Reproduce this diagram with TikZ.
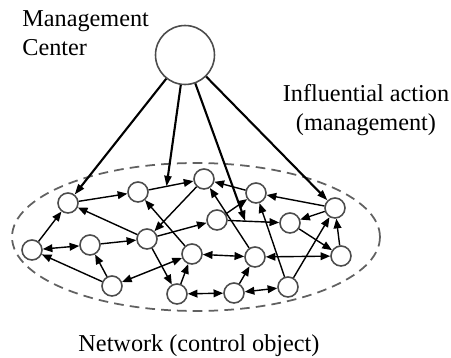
\documentclass[tikz,border=0pt]{standalone}
\usepackage{fontspec}
\setmainfont{Liberation Serif}
\usetikzlibrary{arrows.meta}
\definecolor{nodegray}{rgb}{0.3,0.3,0.3}
\definecolor{ovalgray}{rgb}{0.38,0.38,0.38}
\begin{document}
\begin{tikzpicture}[x=0.02cm, y=-0.02cm,
  every node/.style={font=\fontsize{13.8pt}{16.5pt}\selectfont},
  vertex/.style={circle, draw=nodegray, line width=0.9pt, fill=white, minimum size=0.4cm, inner sep=0pt},
  centre/.style={circle, draw=nodegray, line width=0.9pt, fill=white, minimum size=1.18cm, inner sep=0pt},
  oneway/.style={-{Triangle[length=5.5pt,width=4.4pt]}, line width=0.8pt},
  twoway/.style={{Triangle[length=5.5pt,width=4.4pt]}-{Triangle[length=5.5pt,width=4.4pt]}, line width=0.8pt},
  action/.style={-{Triangle[length=6pt,width=4pt]}, line width=1.2pt},
  caption/.style={inner sep=0pt}]
  \useasboundingbox (0,0) rectangle (451,358);
  \draw[ovalgray, dash pattern=on 5.5pt off 3.5pt, line width=1pt] (196,237) ellipse [x radius=3.68cm, y radius=1.48cm];

  \node[centre] (mc) at (185,55) {};
  \node[vertex] (n1) at (68,203) {};
  \node[vertex] (n2) at (138,192) {};
  \node[vertex] (n3) at (204,179) {};
  \node[vertex] (n4) at (256,193) {};
  \node[vertex] (n5) at (335,208) {};
  \node[vertex] (n6) at (32,250) {};
  \node[vertex] (n7) at (90,245) {};
  \node[vertex] (n8) at (147,239) {};
  \node[vertex] (n9) at (217,220) {};
  \node[vertex] (n10) at (290,223) {};
  \node[vertex] (n11) at (192,254) {};
  \node[vertex] (n12) at (255,257) {};
  \node[vertex] (n13) at (341,256) {};
  \node[vertex] (n14) at (112,286) {};
  \node[vertex] (n15) at (177,294) {};
  \node[vertex] (n16) at (234,293) {};
  \node[vertex] (n17) at (288,287) {};

  \node[caption, anchor=north west, align=left] (mclabel) at (22,10) {Management\\Center};
  \node[caption, anchor=north, align=center] (actlabel) at (366,84) {Influential action\\(management)};
  \node[caption, anchor=base] (netlabel) at (199,352) {Network (control object)};

  \draw[oneway] (n6) -- (n1);
  \draw[oneway] (n1) -- (n2);
  \draw[oneway] (n2) -- (n3);
  \draw[oneway] (n8) -- (n1);
  \draw[twoway] (n6) -- (n7);
  \draw[oneway] (n7) -- (n8);
  \draw[oneway] (n14) -- (n6);
  \draw[oneway] (n14) -- (n7);
  \draw[oneway] (n3) -- (n8);
  \draw[oneway] (n11) -- (n2);
  \draw[oneway] (n8) -- (n9);
  \draw[twoway] (n14) -- (n11);
  \draw[oneway] (n15) -- (n11);
  \draw[twoway] (n15) -- (n16);
  \draw[twoway] (n11) -- (n12);
  \draw[oneway] (n16) -- (n12);
  \draw[oneway] (n5) -- (n4);
  \draw[oneway] (n5) -- (n10);
  \draw[oneway] (n10) -- (n13);
  \draw[oneway] (n13) -- (n5);
  \draw[oneway] (n17) -- (n5);
  \draw[twoway] (n12) -- (n13);
  \draw[oneway] (n17) -- (n4);
  \draw[twoway] (n16) -- (n17);
  \draw[oneway] (n4) -- (n3);
  \draw[oneway] (n12) -- (n3);
  \draw[oneway] (n9) -- (n10);
  \draw[oneway] (n9) -- (n4);
  \draw[oneway] (n8) -- (n15);

  \path (n2) -- (n3) coordinate[pos=0.4] (hit1);
  \path (n9) -- (n10) coordinate[pos=0.34] (hit2);
  \draw[action] (mc) -- (n1);
  \draw[action] (mc) -- (hit1);
  \draw[action] (mc) -- (hit2);
  \draw[action] (mc) -- (n5);
\end{tikzpicture}
\end{document}
